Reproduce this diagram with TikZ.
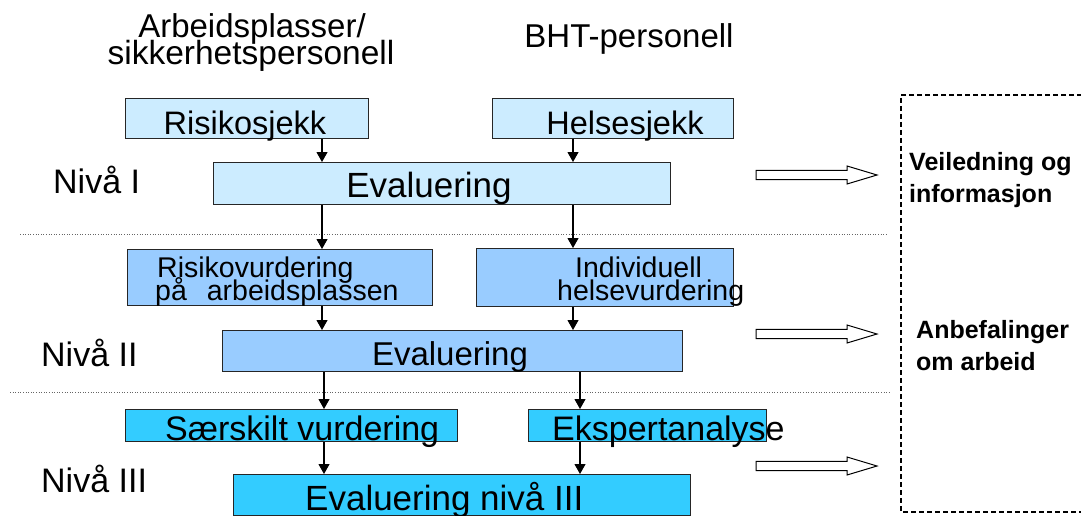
\documentclass[tikz,border=0pt]{standalone}
\usepackage{fontspec}
\setmainfont{Liberation Sans}
\usetikzlibrary{arrows.meta}
\definecolor{lvlone}{HTML}{CCECFF}
\definecolor{lvltwo}{HTML}{99CCFF}
\definecolor{lvlthree}{HTML}{33CCFF}
\newcommand{\fs}[1]{\fontsize{#1pt}{#1pt}\selectfont}
\tikzset{
  boxnode/.style={draw=black!85, line width=1.1pt, inner sep=0pt, anchor=north west},
  txt/.style={inner sep=0pt, anchor=base},
  txtl/.style={inner sep=0pt, anchor=base west},
  conn/.style={line width=1.1pt, -{Triangle[width=11pt,length=10pt]}},
  sep/.style={draw=black!60, line width=0.8pt, dash pattern=on 1pt off 1.6pt},
  blockarr/.style={draw=black, line width=1pt, fill=white},
  outbox/.style={draw=black, line width=1.4pt, dash pattern=on 5pt off 3pt}
}
\newcommand{\blkarrow}[1]{%
  \draw[blockarr] (756,#1-4.7) -- (847,#1-4.7) -- (847,#1-9) -- (877,#1) -- (847,#1+9) -- (847,#1+4.7) -- (756,#1+4.7) -- cycle;}
\begin{document}
\begin{tikzpicture}[x=1pt,y=-1pt]
\useasboundingbox (0,0) rectangle (1081,516);
% headers
\node[txt] (h1a) at (252,38) {\fs{33}Arbeidsplasser/};
\node[txt] (h1b) at (251,65) {\fs{33.5}sikkerhetspersonell};
\node[txt] (h2) at (629,48) {\fs{33}BHT-personell};
% level labels
\node[txtl] (n1) at (53,193) {\fs{34}Nivå I};
\node[txtl] (n2) at (41,366) {\fs{34}Nivå II};
\node[txtl] (n3) at (41,492) {\fs{34}Nivå III};
% separators
\draw[sep] (20,234) -- (887,234);
\draw[sep] (10,392) -- (890,392);
% boxes level I
\node[boxnode, fill=lvlone, minimum width=243pt, minimum height=40pt] (r1) at (125,98) {};
\node[boxnode, fill=lvlone, minimum width=241pt, minimum height=40pt] (hs1) at (492,98) {};
\node[boxnode, fill=lvlone, minimum width=457pt, minimum height=42pt] (e1) at (213,162) {};
% boxes level II
\node[boxnode, fill=lvltwo, minimum width=305pt, minimum height=56pt] (r2) at (127,249) {};
\node[boxnode, fill=lvltwo, minimum width=257pt, minimum height=58pt] (hs2) at (476,248) {};
\node[boxnode, fill=lvltwo, minimum width=460pt, minimum height=41pt] (e2) at (222,330) {};
% boxes level III
\node[boxnode, fill=lvlthree, minimum width=332pt, minimum height=32pt] (r3) at (125,409) {};
\node[boxnode, fill=lvlthree, minimum width=238pt, minimum height=32pt] (hs3) at (528,409) {};
\node[boxnode, fill=lvlthree, minimum width=457pt, minimum height=41pt] (e3) at (233,474) {};
% connector columns
\coordinate (xa) at (322,0);
\coordinate (xb) at (573,0);
\coordinate (xc) at (324,0);
\coordinate (xd) at (580,0);
\draw[conn] (r1.south -| xa) -- (e1.north -| xa);
\draw[conn] (hs1.south -| xb) -- (e1.north -| xb);
\draw[conn] (e1.south -| xa) -- (r2.north -| xa);
\draw[conn] (e1.south -| xb) -- (hs2.north -| xb);
\draw[conn] (r2.south -| xa) -- (e2.north -| xa);
\draw[conn] (hs2.south -| xb) -- (e2.north -| xb);
\draw[conn] (e2.south -| xc) -- (r3.north -| xc);
\draw[conn] (e2.south -| xd) -- (hs3.north -| xd);
\draw[conn] (r3.south -| xc) -- (e3.north -| xc);
\draw[conn] (hs3.south -| xd) -- (e3.north -| xd);
% box texts
\node[txt] (t1) at (245,135) {\fs{32.5}Risikosjekk};
\node[txt] (t2) at (625,135) {\fs{32.5}Helsesjekk};
\node[txt] (t3) at (429,197) {\fs{35}Evaluering};
\node[txtl] (t4) at (157,277) {\fs{28.5}Risikovurdering};
\node[txtl] (t5) at (155,300) {\fs{28.5}på\hspace{20pt}arbeidsplassen};
\node[txtl] (t6) at (575,277) {\fs{28.5}Individuell};
\node[txtl] (t7) at (557,300) {\fs{28.5}helsevurdering};
\node[txt] (t8) at (450,365) {\fs{33}Evaluering};
\node[txtl] (t9) at (165,440) {\fs{34}Særskilt vurdering};
\node[txtl] (t10) at (552,440) {\fs{34}Ekspertanalyse};
\node[txtl] (t11) at (305,510) {\fs{35}Evaluering nivå III};
% block arrows
\blkarrow{175}
\blkarrow{334}
\blkarrow{466}
% outcome box
\draw[outbox] (1090,95) -- (901,95) -- (901,512) -- (1090,512);
\node[txtl] (o1) at (909,170) {\fs{25}\bfseries Veiledning og};
\node[txtl] (o2) at (909,202) {\fs{25}\bfseries informasjon};
\node[txtl] (o3) at (916,338) {\fs{25}\bfseries Anbefalinger};
\node[txtl] (o4) at (916,370) {\fs{25}\bfseries om arbeid};
\end{tikzpicture}
\end{document}
